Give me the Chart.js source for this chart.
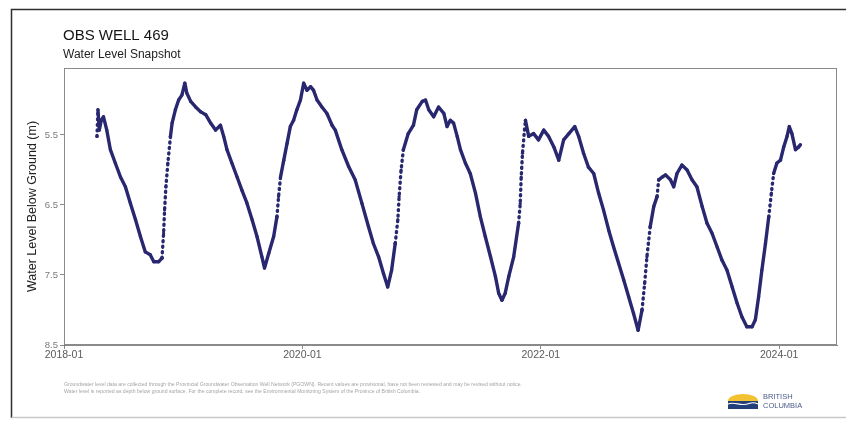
<!DOCTYPE html>
<html>
<head>
<meta charset="utf-8">
<script src="https://cdn.jsdelivr.net/npm/chart.js@4.4.1/dist/chart.umd.min.js"></script>
<style>
  html, body { margin: 0; padding: 0; background: #ffffff; }
  canvas { display: block; }
</style>
</head>
<body>
<canvas id="wellChart" width="849" height="424"></canvas>
<script>
// ---- Labels ----
const wellTitle = 'OBS WELL 469';
const wellSubtitle = 'Water Level Snapshot';
const yAxisTitle = 'Water Level Below Ground (m)';
const xTickYears = [2018, 2020, 2022, 2024];
const yTickValues = [5.5, 6.5, 7.5, 8.5];
const footerLines = [
  'Groundwater level data are collected through the Provincial Groundwater Observation Well Network (PGOWN). Recent values are provisional, have not been reviewed and may be revised without notice.',
  'Water level is reported as depth below ground surface. For the complete record, see the Environmental Monitoring System of the Province of British Columbia.'
];
const logoWords = ['BRITISH', 'COLUMBIA'];

// ---- Observations: reading date and depth to water below ground (m) ----
const readingDates = [
  '2018-04-12','2018-04-15','2018-04-19','2018-04-25','2018-05-02','2018-05-12','2018-05-23','2018-06-07',
  '2018-06-23','2018-07-08','2018-07-23','2018-08-08','2018-08-23','2018-09-07','2018-09-22','2018-10-03',
  '2018-10-18','2018-10-28','2018-11-02','2018-11-05','2018-11-09','2018-11-15','2018-11-23','2018-11-28',
  '2018-12-08','2018-12-18','2018-12-28','2019-01-06','2019-01-12','2019-01-24','2019-02-08','2019-02-24',
  '2019-03-11','2019-03-26','2019-04-10','2019-04-25','2019-05-05','2019-05-15','2019-05-30','2019-06-15',
  '2019-06-30','2019-07-15','2019-07-31','2019-08-15','2019-08-30','2019-09-07','2019-09-20','2019-10-05',
  '2019-10-15','2019-10-20','2019-10-26','2019-11-05','2019-11-15','2019-11-25','2019-12-05','2019-12-15',
  '2019-12-26','2020-01-05','2020-01-15','2020-01-26','2020-02-04','2020-02-15','2020-03-01','2020-03-16',
  '2020-04-01','2020-04-11','2020-05-01','2020-05-22','2020-06-11','2020-07-02','2020-07-22','2020-08-06',
  '2020-08-22','2020-09-06','2020-09-19','2020-10-01','2020-10-12','2020-10-20','2020-10-24','2020-10-30',
  '2020-11-06','2020-11-21','2020-12-07','2020-12-17','2021-01-03','2021-01-13','2021-01-23','2021-02-07',
  '2021-02-22','2021-03-10','2021-03-20','2021-03-30','2021-04-09','2021-04-20','2021-04-30','2021-05-15',
  '2021-05-30','2021-06-15','2021-06-30','2021-07-15','2021-07-31','2021-08-15','2021-08-25','2021-09-04',
  '2021-09-14','2021-09-25','2021-10-10','2021-10-25','2021-10-30','2021-11-02','2021-11-06','2021-11-12',
  '2021-11-15','2021-11-25','2021-12-10','2021-12-25','2022-01-10','2022-01-25','2022-02-10','2022-02-25',
  '2022-03-12','2022-03-28','2022-04-15','2022-04-27','2022-05-12','2022-05-27','2022-06-12','2022-06-27',
  '2022-07-12','2022-07-28','2022-08-12','2022-08-27','2022-09-12','2022-09-27','2022-10-12','2022-10-26',
  '2022-11-07','2022-11-15','2022-11-22','2022-12-02','2022-12-13','2022-12-23','2022-12-28','2023-01-08',
  '2023-01-18','2023-02-02','2023-02-12','2023-02-22','2023-03-09','2023-03-25','2023-04-09','2023-04-24',
  '2023-05-10','2023-05-25','2023-06-09','2023-06-25','2023-07-10','2023-07-25','2023-08-10','2023-08-25',
  '2023-09-09','2023-09-24','2023-10-10','2023-10-20','2023-10-30','2023-11-09','2023-11-20','2023-11-30',
  '2023-12-08','2023-12-15','2023-12-25','2024-01-05','2024-01-15','2024-01-25','2024-02-01','2024-02-09',
  '2024-02-20','2024-03-01','2024-03-06'
];
const depthBelowGround = [
  5.52, 5.14, 5.43, 5.29, 5.24, 5.43, 5.71, 5.90,
  6.10, 6.24, 6.47, 6.71, 6.95, 7.17, 7.21, 7.31,
  7.31, 7.26, 6.90, 6.57, 6.24, 5.90, 5.52, 5.33,
  5.14, 5.00, 4.93, 4.76, 4.90, 5.02, 5.10, 5.17,
  5.21, 5.33, 5.43, 5.36, 5.52, 5.71, 5.90, 6.10,
  6.29, 6.47, 6.71, 6.95, 7.24, 7.40, 7.19, 6.95,
  6.67, 6.38, 6.10, 5.86, 5.62, 5.38, 5.29, 5.14,
  5.00, 4.76, 4.86, 4.81, 4.86, 5.00, 5.10, 5.19,
  5.36, 5.43, 5.71, 5.95, 6.14, 6.48, 6.81, 7.05,
  7.24, 7.48, 7.67, 7.43, 7.05, 6.71, 6.38, 6.00,
  5.71, 5.48, 5.36, 5.14, 5.02, 5.00, 5.14, 5.24,
  5.10, 5.19, 5.38, 5.29, 5.33, 5.52, 5.71, 5.90,
  6.05, 6.33, 6.67, 6.95, 7.24, 7.52, 7.76, 7.86,
  7.76, 7.52, 7.24, 6.76, 6.48, 6.10, 5.76, 5.43,
  5.29, 5.52, 5.48, 5.57, 5.43, 5.52, 5.67, 5.86,
  5.57, 5.48, 5.38, 5.52, 5.76, 5.96, 6.05, 6.33,
  6.57, 6.86, 7.10, 7.33, 7.57, 7.81, 8.05, 8.29,
  8.00, 7.62, 7.24, 6.81, 6.52, 6.38, 6.14, 6.10,
  6.07, 6.14, 6.24, 6.05, 5.93, 6.00, 6.14, 6.24,
  6.52, 6.76, 6.90, 7.10, 7.29, 7.43, 7.67, 7.90,
  8.10, 8.24, 8.24, 8.14, 7.81, 7.43, 7.05, 6.67,
  6.33, 6.05, 5.90, 5.86, 5.67, 5.52, 5.38, 5.48,
  5.71, 5.67, 5.64
];

// Date string -> fractional year, so a plain linear axis can place readings in time
function toFractionalYear(iso) {
  const [y, m, d] = iso.split('-').map(Number);
  const start = Date.UTC(y, 0, 1);
  const end = Date.UTC(y + 1, 0, 1);
  return y + (Date.UTC(y, m - 1, d) - start) / (end - start);
}

const seriesPoints = readingDates.map((d, i) => ({ x: toFractionalYear(d), y: depthBelowGround[i] }));

const SERIES_COLOR = '#28276f';
const FONT = '"Liberation Sans", Arial, Helvetica, sans-serif';

// Fast recharge (level rising quickly) is shown as a dotted trace
function isFastRise(ctx) {
  const p0 = ctx.p0.parsed, p1 = ctx.p1.parsed;
  const days = (p1.x - p0.x) * 365;
  return days > 0 && (p1.y - p0.y) / days < -0.04;
}

// Page decoration: outer frame, heading, plot box, footer notes and provincial logo
const pageDecor = {
  id: 'pageDecor',
  beforeDraw(chart) {
    const { ctx } = chart;
    ctx.save();
    ctx.fillStyle = '#ffffff';
    ctx.fillRect(0, 0, chart.width, chart.height);
    ctx.restore();
  },
  afterDraw(chart) {
    const { ctx, chartArea } = chart;
    ctx.save();

    // plot box
    ctx.strokeStyle = '#8a8a8a';
    ctx.lineWidth = 1;
    ctx.strokeRect(chartArea.left + 0.5, chartArea.top + 0.5,
                   chartArea.right - chartArea.left - 1, chartArea.bottom - chartArea.top - 1);

    // outer frame
    ctx.strokeStyle = '#2e2e2e';
    ctx.lineWidth = 1.5;
    ctx.beginPath();
    ctx.moveTo(11.5, 418);
    ctx.lineTo(11.5, 9.5);
    ctx.lineTo(846, 9.5);
    ctx.stroke();
    ctx.strokeStyle = '#c8c8c8';
    ctx.lineWidth = 1.5;
    ctx.beginPath();
    ctx.moveTo(11.5, 417.5);
    ctx.lineTo(846, 417.5);
    ctx.stroke();

    // heading
    ctx.fillStyle = '#151515';
    ctx.textBaseline = 'alphabetic';
    ctx.textAlign = 'left';
    ctx.font = '15px ' + FONT;
    ctx.fillText(wellTitle, 63, 39.5);
    ctx.fillStyle = '#222222';
    ctx.font = '12px ' + FONT;
    ctx.fillText(wellSubtitle, 63, 58);

    // footer notes
    ctx.fillStyle = '#a4a4a4';
    ctx.font = '5.3px ' + FONT;
    ctx.fillText(footerLines[0], 64, 386, 458);
    ctx.fillText(footerLines[1], 64, 392.5, 356);

    // logo: sun over the sea
    const lx = 727, ly = 392;
    ctx.fillStyle = '#f2c230';
    ctx.beginPath();
    ctx.ellipse(lx + 16, ly + 9, 15, 7, 0, Math.PI, 2 * Math.PI);
    ctx.fill();
    ctx.fillStyle = '#233f7a';
    ctx.fillRect(lx + 1, ly + 9, 30, 8);
    ctx.strokeStyle = '#ffffff';
    ctx.lineWidth = 1.2;
    ctx.beginPath();
    ctx.moveTo(lx + 1, ly + 12);
    ctx.bezierCurveTo(lx + 8, ly + 9, lx + 14, ly + 15, lx + 22, ly + 11.5);
    ctx.bezierCurveTo(lx + 26, ly + 10, lx + 29, ly + 11, lx + 31, ly + 12);
    ctx.stroke();
    ctx.fillStyle = '#4a5a88';
    ctx.font = '7.5px ' + FONT;
    ctx.fillText(logoWords[0], lx + 36, ly + 7, 34);
    ctx.fillText(logoWords[1], lx + 36, ly + 15.5, 46);

    ctx.restore();
  }
};

new Chart(document.getElementById('wellChart'), {
  type: 'line',
  data: {
    datasets: [{
      label: 'Water level below ground',
      data: seriesPoints,
      borderColor: SERIES_COLOR,
      backgroundColor: SERIES_COLOR,
      borderWidth: 3.4,
      borderCapStyle: 'round',
      borderJoinStyle: 'round',
      pointRadius: 1.6,
      pointBorderWidth: 0,
      tension: 0,
      segment: {
        borderDash: ctx => isFastRise(ctx) ? [1, 4.5] : undefined
      }
    }]
  },
  options: {
    responsive: false,
    animation: false,
    layout: { padding: { left: 19, right: 12, top: 68, bottom: 57 } },
    plugins: {
      legend: { display: false },
      tooltip: { enabled: false },
      title: { display: false }
    },
    scales: {
      x: {
        type: 'linear',
        min: 2018,
        max: 2024.485,
        afterBuildTicks: scale => { scale.ticks = xTickYears.map(v => ({ value: v })); },
        afterFit: scale => { scale.height = 22; },
        ticks: {
          callback: v => v + '-01',
          color: '#5a5a5a',
          font: { family: FONT, size: 10.5 },
          maxRotation: 0,
          autoSkip: false,
          padding: 0
        },
        grid: { drawOnChartArea: false, tickLength: 4, color: '#8a8a8a' },
        border: { color: '#8a8a8a' }
      },
      y: {
        type: 'linear',
        reverse: true,
        min: 4.543,
        max: 8.5,
        afterBuildTicks: scale => { scale.ticks = yTickValues.map(v => ({ value: v })); },
        afterFit: scale => { scale.width = 45; },
        ticks: {
          callback: v => Number(v).toFixed(1),
          color: '#7a7a7a',
          font: { family: FONT, size: 9.5 },
          padding: 2,
          autoSkip: false
        },
        grid: { drawOnChartArea: false, tickLength: 4, color: '#8a8a8a' },
        border: { color: '#6a6a6a' },
        title: {
          display: true,
          text: yAxisTitle,
          color: '#222222',
          font: { family: FONT, size: 12.5 },
          padding: { top: 6, bottom: 0 }
        }
      }
    }
  },
  plugins: [pageDecor]
});
</script>
</body>
</html>
